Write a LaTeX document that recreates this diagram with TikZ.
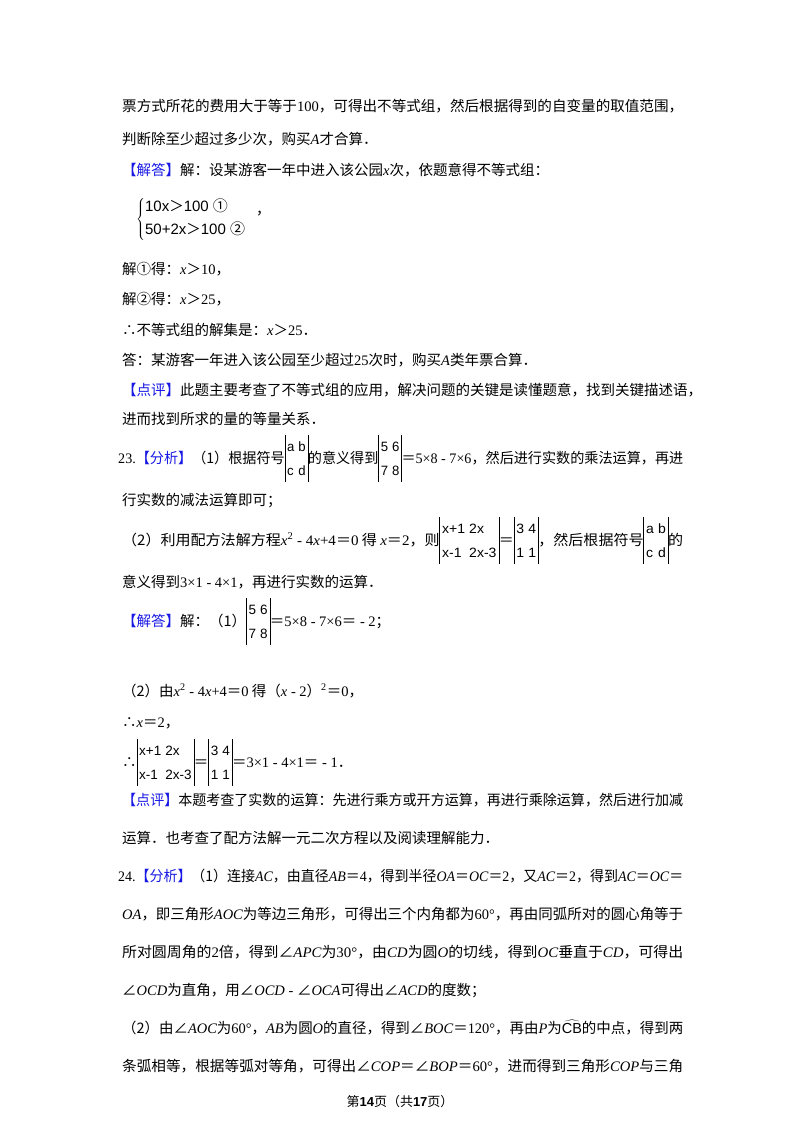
\documentclass[tikz,border=0pt]{standalone}
\usepackage{fontspec}
\usepackage{graphicx}
\setmainfont{Noto Sans CJK SC}
\newfontfamily\tmf{Liberation Serif}
\newfontfamily\arf{Liberation Sans}
\newcommand\tn[1]{{\tmf #1}}
\newcommand\tx[1]{{\tmf\itshape #1}}
\definecolor{kblue}{RGB}{25,25,230}
\newcommand\bl[1]{{\color{kblue}#1}}
\newcommand\dm[4]{\raisebox{1pt}{\arf\fontsize{13.5}{14}\selectfont\setlength\tabcolsep{1.5pt}\renewcommand\arraystretch{1.7}\begin{tabular}{|@{\,}l@{\hspace{4pt}}l@{\,}|}#1&#2\\#3&#4\end{tabular}}}
\newcommand\fit[1]{\resizebox{561pt}{\height}{#1}}
\newcommand\sq{\textsuperscript{\tn{2}}}
\begin{document}
\begin{tikzpicture}[x=1pt,y=-1pt,ln/.style={anchor=base west,inner sep=0pt,font=\fontsize{14.5}{16}\selectfont}]
\useasboundingbox[fill=white] (0,0) rectangle (800,1132);
\node[ln] (l1) at (122,111) {\fit{票方式所花的费用大于等于\tn{100}，可得出不等式组，然后根据得到的自变量的取值范围，}};
\node[ln] (l2) at (122,144) {判断除至少超过多少次，购买\tx{A}才合算．};
\node[ln] (l3) at (122,175) {\bl{【解答】}解：设某游客一年中进入该公园\tx{x}次，依题意得不等式组：};
\node[ln,anchor=west] (l4) at (136,219) {$\left\{\begin{array}{@{}l}\mbox{\arf\fontsize{15}{16}\selectfont 10x}\mbox{＞}\mbox{\arf\fontsize{15}{16}\selectfont 100\ }\mbox{\fontsize{15}{16}\selectfont ①}\\[5pt]\mbox{\arf\fontsize{15}{16}\selectfont 50+2x}\mbox{＞}\mbox{\arf\fontsize{15}{16}\selectfont 100\ }\mbox{\fontsize{15}{16}\selectfont ②}\end{array}\right.$};
\node[ln] (l4c) at (256,214) {，};
\node[ln] (l5) at (122,274) {解①得：\tx{x}＞\tn{10}，};
\node[ln] (l6) at (122,304) {解②得：\tx{x}＞\tn{25}，};
\node[ln] (l7) at (122,335) {∴不等式组的解集是：\tx{x}＞\tn{25}．};
\node[ln] (l8) at (122,365) {答：某游客一年进入该公园至少超过\tn{25}次时，购买\tx{A}类年票合算．};
\node[ln] (l9) at (122,395) {\bl{【点评】}此题主要考查了不等式组的应用，解决问题的关键是读懂题意，找到关键描述语，};
\node[ln] (l10) at (122,424) {进而找到所求的量的等量关系．};
\node[ln] (l11) at (118,463) {\resizebox{565pt}{\height}{\tn{23.}\bl{【分析】}（1）根据符号\dm{a}{b}{c}{d}的意义得到\dm{5}{6}{7}{8}＝\tn{5×8 - 7×6}，然后进行实数的乘法运算，再进}};
\node[ln] (l12) at (122,505) {行实数的减法运算即可；};
\node[ln] (l13) at (122,545) {\fit{（2）利用配方法解方程\tx{x}\sq\tn{ - 4}\tx{x}\tn{+4}＝\tn{0} 得 \tx{x}＝\tn{2}，则\dm{x+1}{2x}{x-1}{2x-3}＝\dm{3}{4}{1}{1}，然后根据符号\dm{a}{b}{c}{d}的}};
\node[ln] (l14) at (122,587) {意义得到\tn{3×1 - 4×1}，再进行实数的运算．};
\node[ln] (l15) at (122,626) {\bl{【解答】}解：（1）\dm{5}{6}{7}{8}＝\tn{5×8 - 7×6}＝\tn{ - 2}；};
\node[ln] (l16) at (122,696) {（2）由\tx{x}\sq\tn{ - 4}\tx{x}\tn{+4}＝\tn{0} 得（\tx{x}\tn{ - 2}）\sq＝\tn{0}，};
\node[ln] (l17) at (122,727) {∴\tx{x}＝\tn{2}，};
\node[ln] (l18) at (122,767) {∴\dm{x+1}{2x}{x-1}{2x-3}＝\dm{3}{4}{1}{1}＝\tn{3×1 - 4×1}＝\tn{ - 1}．};
\node[ln] (l19) at (122,805) {\fit{\bl{【点评】}本题考查了实数的运算：先进行乘方或开方运算，再进行乘除运算，然后进行加减}};
\node[ln] (l20) at (122,843) {运算．也考查了配方法解一元二次方程以及阅读理解能力．};
\node[ln] (l21) at (118,881) {\resizebox{565pt}{\height}{\tn{24.}\bl{【分析】}（1）连接\tx{AC}，由直径\tx{AB}＝\tn{4}，得到半径\tx{OA}＝\tx{OC}＝\tn{2}，又\tx{AC}＝\tn{2}，得到\tx{AC}＝\tx{OC}＝}};
\node[ln] (l22) at (122,919) {\fit{\tx{OA}，即三角形\tx{AOC}为等边三角形，可得出三个内角都为\tn{60°}，再由同弧所对的圆心角等于}};
\node[ln] (l23) at (122,957) {\fit{所对圆周角的\tn{2}倍，得到∠\tx{APC}为\tn{30°}，由\tx{CD}为圆\tx{O}的切线，得到\tx{OC}垂直于\tx{CD}，可得出}};
\node[ln] (l24) at (122,995) {∠\tx{OCD}为直角，用∠\tx{OCD}\tn{ - }∠\tx{OCA}可得出∠\tx{ACD}的度数；};
\node[ln] (l25) at (122,1033) {\fit{（2）由∠\tx{AOC}为\tn{60°}，\tx{AB}为圆\tx{O}的直径，得到∠\tx{BOC}＝\tn{120°}，再由\tx{P}为$\widehat{\mbox{\arf CB}}$的中点，得到两}};
\node[ln] (l26) at (122,1071) {\fit{条弧相等，根据等弧对等角，可得出∠\tx{COP}＝∠\tx{BOP}＝\tn{60°}，进而得到三角形\tx{COP}与三角}};
\node[anchor=base,inner sep=0pt,font=\fontsize{13}{15}\selectfont] (ft) at (400,1106) {第{\arf\bfseries 14}页（共{\arf\bfseries 17}页）};
\end{tikzpicture}
\end{document}
